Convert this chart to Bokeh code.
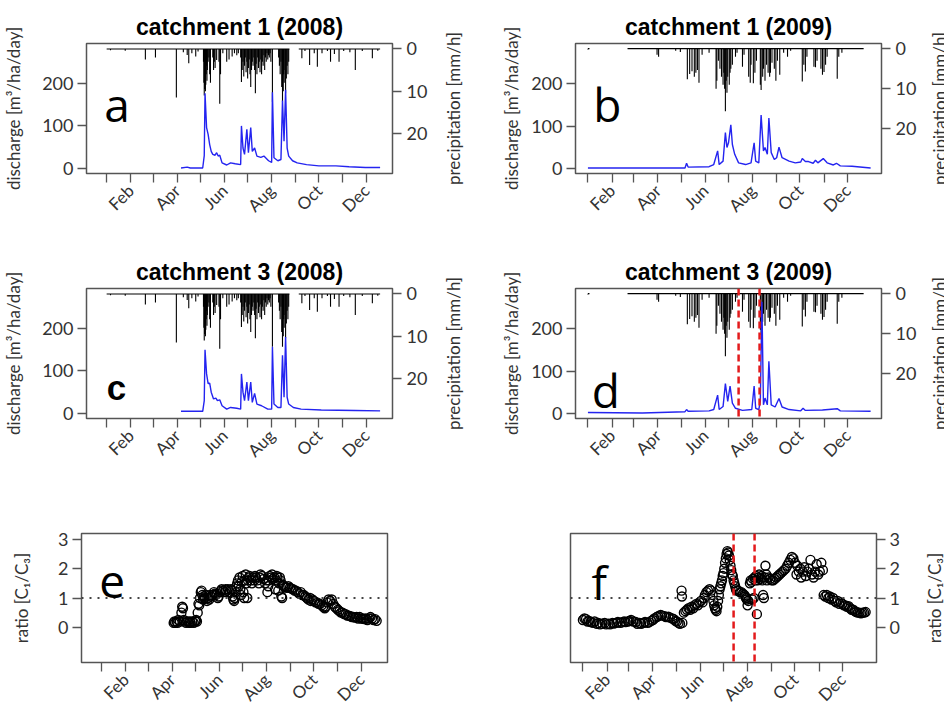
import math
from bokeh.plotting import figure
from bokeh.models import Range1d, LinearAxis, FixedTicker, Span, Label
from bokeh.layouts import column, row
from bokeh.embed import file_html
from bokeh.resources import INLINE

# ---------------- data ----------------
# month starts (day of year, 0 = 1 Jan)
months_2008 = [0, 31, 60, 91, 121, 152, 182, 213, 244, 274, 305, 335]
months_2009 = [0, 31, 59, 90, 120, 151, 181, 212, 243, 273, 304, 334]
month_names = ["Jan", "Feb", "Mar", "Apr", "May", "Jun", "Jul", "Aug", "Sep", "Oct", "Nov", "Dec"]
labelled_months = ["Feb", "Apr", "Jun", "Aug", "Oct", "Dec"]

titles = ["catchment 1 (2008)", "catchment 1 (2009)", "catchment 3 (2008)", "catchment 3 (2009)"]
panel_letters = ["a", "b", "c", "d", "e", "f"]
label_discharge = "discharge [m³/ha/day]"
label_precip = "precipitation [mm/h]"
label_ratio = "ratio [C₁/C₃]"

# discharge [m3/ha/day] (day, value)
q1_2008 = [(96, 1), (104, 3), (108, 1), (124, 1), (126, 30), (127, 177), (129, 96), (131, 80), (133, 56),
           (135, 40), (137, 33), (140, 31), (142, 37), (144, 29), (146, 31), (149, 13), (155, 8), (160, 13),
           (166, 11), (173, 9), (174, 100), (176, 48), (178, 33), (181, 92), (183, 37), (186, 96), (188, 40),
           (191, 48), (194, 29), (199, 26), (203, 29), (209, 18), (213, 14), (214, 179), (216, 25), (221, 18),
           (225, 21), (227, 160), (229, 64), (231, 185), (233, 48), (235, 29), (240, 18), (246, 13), (258, 9),
           (274, 6), (296, 6), (313, 4), (334, 2), (353, 2)]
q3_2008 = [(96, 5), (124, 5), (126, 30), (127, 150), (129, 93), (131, 70), (133, 71), (135, 50), (138, 34),
           (141, 36), (143, 30), (146, 32), (149, 18), (155, 10), (160, 14), (168, 12), (173, 10), (174, 93),
           (176, 50), (178, 30), (181, 74), (183, 30), (186, 74), (188, 26), (191, 47), (194, 22), (200, 18),
           (208, 10), (213, 10), (214, 157), (216, 22), (221, 14), (225, 14), (227, 137), (229, 38), (231, 180),
           (233, 38), (235, 22), (241, 14), (251, 10), (277, 8), (321, 7), (353, 6)]
q1_2009 = [(0, 2), (70, 2), (125, 2), (127, 13), (129, 4), (156, 5), (162, 10), (167, 42), (169, 10), (174, 18),
           (177, 85), (179, 50), (181, 61), (184, 103), (186, 57), (189, 34), (194, 14), (203, 10), (210, 14),
           (214, 61), (216, 18), (220, 14), (223, 126), (226, 42), (228, 50), (231, 34), (233, 119), (236, 38),
           (240, 22), (243, 26), (246, 51), (250, 26), (259, 18), (267, 14), (274, 16), (276, 24), (280, 17),
           (284, 17), (290, 13), (293, 20), (296, 14), (303, 24), (308, 14), (316, 9), (320, 13), (325, 7),
           (340, 6), (364, 2)]
q3_2009 = [(0, 3), (70, 2), (125, 5), (127, 10), (129, 6), (156, 7), (162, 10), (167, 44), (169, 10), (174, 17),
           (177, 71), (180, 29), (183, 65), (186, 25), (190, 13), (199, 8), (211, 10), (214, 65), (216, 13),
           (220, 10), (222, 30), (224, 263), (226, 21), (228, 37), (231, 21), (233, 123), (236, 21), (241, 16),
           (246, 36), (250, 16), (259, 10), (274, 7), (277, 13), (280, 8), (302, 9), (321, 12), (325, 7), (364, 6)]

# precipitation [mm/h] (day, intensity)
p_2008 = [(5, 0.3), (24, 0.4), (50, 2.5), (63, 2.0), (90, 11.5), (99, 0.8), (104, 1.4), (106, 3.4), (110, 1.0),
          (115, 1.8), (118, 0.6), (125, 3), (125.5, 8), (126, 11), (126.5, 9.5), (127, 7), (127.5, 10), (128, 8.5),
          (128.5, 6), (129, 4), (129.5, 7.5), (130, 5), (131, 3), (132, 2), (133, 6), (134, 8), (137, 2), (138, 5),
          (139, 3), (140, 4.5), (142, 2.6), (145, 3), (146, 13), (147, 6), (150, 1), (155, 3), (158, 2.5),
          (162, 1.8), (165, 1), (168, 1.5), (170, 1), (173, 2), (174, 7.8), (175, 5), (176, 3), (177, 6.5),
          (178, 4), (179, 2), (180, 5.5), (181, 3), (182, 7), (183, 4.5), (184, 2.5), (185, 6), (186, 9), (187, 5),
          (188, 3), (189, 4), (190, 2), (191, 5), (192, 10.5), (193, 3.5), (194, 6), (195, 2), (196, 4.5),
          (197, 3), (198, 5.5), (199, 2.5), (200, 6), (201, 3), (202, 4), (203, 1.5), (204, 5), (205, 2), (206, 3),
          (207, 1), (208, 2.5), (209, 1.5), (210, 2), (211, 1), (212, 3), (214, 12.5), (222, 2), (223, 4),
          (224, 6), (225, 3), (226, 9), (227, 12.5), (227.5, 8), (228, 10), (228.5, 6), (229, 5), (230, 8),
          (231, 10.5), (232, 7), (233, 4), (234, 6), (235, 3), (252, 2.2), (256, 0.5), (262, 3.8), (268, 1.0),
          (272, 4.2), (278, 1.0), (285, 0.5), (289, 3.0), (294, 1.2), (300, 3.0), (306, 0.5), (314, 0.8),
          (321, 5.0), (330, 0.5), (343, 2.2), (350, 0.4)]
p_2008_record = [(0, 236), (248, 353)]
p_2009 = [(0, 0.2), (89, 1.5), (91, 2), (113, 0.5), (119, 0.8), (128, 7.6), (131, 6.3), (134, 5.6), (137, 7),
          (139, 6), (141, 5.3), (143, 8.5), (147, 1.5), (156, 1), (165, 10), (166, 8), (168, 3), (170, 5),
          (172, 7), (174, 9), (175, 6), (176, 10), (177, 15.6), (178, 8), (179, 11), (180, 7), (182, 9), (183, 6),
          (184, 5), (186, 4), (190, 2), (192, 1), (199, 4.5), (201, 1.5), (207, 7), (209, 8.5), (210, 4),
          (213, 8.6), (215, 6), (217, 3), (222, 9), (223, 10.3), (225, 7), (226, 5), (228, 8), (230, 4), (232, 6),
          (234, 7), (235, 6), (237, 3.5), (240, 5), (242, 8), (244, 3), (247, 6.5), (252, 1), (257, 2),
          (261, 0.5), (276, 8.2), (278, 4), (280, 5.7), (282, 2), (291, 4.5), (293, 4.6), (295, 3), (300, 5),
          (302, 6.5), (304, 5.8), (306, 4), (308, 2), (321, 7.5), (323, 2), (327, 1)]
p_2009_record = [(0, 2), (51, 355)]

# ratio C1/C3 (day, ratio)
ratio_2008 = [(93, 0.15), (94, 0.2), (95, 0.15), (97, 0.2), (98, 0.15), (99, 0.25), (101, 0.2), (103, 0.5),
              (104, 0.7), (105, 0.65), (106, 0.25), (107, 0.2), (109, 0.15), (111, 0.2), (113, 0.15), (114, 0.2),
              (115, 0.15), (117, 0.2), (119, 0.15), (121, 0.2), (122, 0.25), (123, 0.2), (124, 0.5), (125, 0.8),
              (126, 0.75), (127, 1.0), (128, 1.2), (129, 1.25), (130, 1.1), (131, 0.95), (132, 1.05), (133, 1.0),
              (135, 1.1), (136, 0.9), (137, 1.0), (139, 0.95), (140, 1.1), (141, 1.05), (143, 1.1), (145, 1.2),
              (146, 1.15), (147, 1.1), (149, 1.15), (150, 1.0), (151, 1.05), (153, 1.2), (154, 1.25), (155, 1.3),
              (157, 1.25), (159, 1.2), (160, 1.3), (161, 1.25), (163, 1.3), (165, 1.2), (167, 1.3), (168, 1.25),
              (169, 1.05), (170, 0.95), (171, 0.9), (172, 1.0), (173, 1.2), (174, 1.4), (175, 1.5), (176, 1.6),
              (177, 1.4), (178, 1.7), (179, 1.3), (180, 1.1), (181, 1.55), (182, 1.75), (183, 1.2), (184, 1.0),
              (185, 1.6), (186, 1.8), (187, 1.5), (188, 1.0), (189, 1.6), (190, 1.7), (191, 1.75), (193, 1.6),
              (194, 1.5), (195, 1.7), (197, 1.6), (198, 1.75), (199, 1.7), (201, 1.6), (203, 1.5), (204, 1.7),
              (205, 1.8), (207, 1.75), (209, 1.65), (211, 1.5), (213, 1.6), (214, 1.2), (215, 1.4), (216, 1.6),
              (217, 1.75), (219, 1.7), (220, 1.8), (221, 1.65), (223, 1.7), (224, 1.3), (225, 1.6), (226, 1.75),
              (227, 1.7), (228, 1.25), (229, 1.5), (230, 1.7), (231, 1.6), (232, 1.05), (233, 1.0), (234, 1.45),
              (235, 1.4), (237, 1.38), (239, 1.35), (241, 1.4), (243, 1.35), (245, 1.32), (247, 1.3), (249, 1.25),
              (251, 1.25), (253, 1.2), (255, 1.15), (257, 1.2), (259, 1.1), (261, 1.1), (263, 1.05), (265, 1.0),
              (267, 0.95), (269, 1.0), (270, 0.9), (272, 0.95), (274, 0.9), (276, 0.85), (278, 0.85), (280, 0.8),
              (282, 0.8), (284, 0.75), (286, 0.7), (288, 0.65), (289, 0.7), (291, 0.85), (293, 0.95), (295, 0.9),
              (297, 0.95), (299, 0.8), (301, 0.7), (303, 0.65), (305, 0.6), (307, 0.55), (309, 0.5), (311, 0.5),
              (313, 0.45), (315, 0.45), (317, 0.4), (319, 0.4), (321, 0.38), (323, 0.35), (325, 0.35), (327, 0.33),
              (329, 0.35), (331, 0.3), (333, 0.35), (335, 0.3), (337, 0.3), (339, 0.28), (341, 0.3), (343, 0.25),
              (345, 0.3), (347, 0.35), (349, 0.3), (351, 0.25), (353, 0.28), (355, 0.22)]
ratio_2009 = [(0, 0.25), (2, 0.3), (4, 0.28), (6, 0.2), (8, 0.22), (10, 0.18), (13, 0.15), (15, 0.2), (18, 0.12),
              (20, 0.15), (22, 0.1), (25, 0.12), (28, 0.15), (30, 0.1), (33, 0.12), (35, 0.1), (38, 0.15),
              (40, 0.13), (43, 0.15), (45, 0.18), (48, 0.15), (50, 0.17), (53, 0.2), (55, 0.18), (58, 0.2),
              (60, 0.22), (62, 0.25), (65, 0.2), (68, 0.18), (70, 0.12), (73, 0.15), (75, 0.12), (78, 0.15),
              (80, 0.18), (83, 0.15), (85, 0.17), (88, 0.22), (90, 0.25), (92, 0.3), (95, 0.35), (97, 0.38),
              (100, 0.42), (102, 0.4), (105, 0.38), (107, 0.35), (110, 0.36), (112, 0.33), (115, 0.3), (117, 0.28),
              (119, 0.22), (121, 0.2), (123, 0.15), (125, 0.12), (127, 1.25), (127.5, 1.05), (128, 0.15),
              (130, 0.5), (132, 0.55), (134, 0.6), (136, 0.65), (138, 0.6), (140, 0.7), (142, 0.65), (144, 0.75),
              (146, 0.8), (148, 0.75), (150, 0.85), (152, 0.9), (154, 0.85), (156, 1.0), (157, 1.1), (159, 1.2),
              (161, 1.25), (163, 1.3), (165, 1.25), (167, 1.1), (168, 0.9), (169, 0.75), (170, 0.65), (171, 0.6),
              (172, 0.55), (173, 0.7), (174, 0.9), (175, 1.1), (176, 1.3), (177, 1.4), (178, 1.5), (179, 1.6),
              (180, 1.75), (181, 1.85), (182, 2.0), (183, 2.2), (184, 2.35), (185, 2.5), (186, 2.6), (187, 2.55),
              (188, 2.45), (189, 2.3), (190, 2.1), (191, 1.95), (192, 1.8), (193, 1.75), (194, 1.6), (195, 1.5),
              (196, 1.4), (197, 1.3), (198, 1.25), (200, 1.25), (202, 1.2), (204, 1.2), (206, 1.15), (208, 1.1),
              (209, 1.05), (210, 1.0), (211, 0.95), (212, 0.75), (213, 0.9), (215, 1.5), (216, 1.6), (217, 1.55),
              (218, 0.95), (219, 1.65), (220, 1.0), (221, 1.7), (222, 1.6), (223, 1.75), (224, 0.45), (225, 1.6),
              (226, 1.7), (227, 1.8), (229, 1.65), (230, 1.75), (231, 1.6), (232, 1.1), (233, 1.0), (234, 1.7),
              (235, 2.1), (236, 1.8), (237, 1.6), (239, 1.7), (241, 1.65), (243, 1.6), (245, 1.6), (247, 1.65),
              (249, 1.7), (251, 1.75), (253, 1.8), (255, 1.85), (257, 1.9), (259, 1.95), (261, 2.0), (263, 2.1),
              (265, 2.2), (267, 2.3), (269, 2.4), (271, 2.35), (273, 2.2), (275, 1.8), (276, 2.1), (278, 1.9),
              (280, 2.0), (281, 1.7), (283, 1.9), (285, 2.05), (287, 1.75), (289, 1.9), (291, 2.0), (293, 2.3),
              (295, 1.8), (297, 1.7), (299, 1.9), (301, 2.15), (303, 1.8), (305, 1.9), (307, 2.2), (309, 1.95),
              (310, 1.1), (312, 1.05), (314, 1.1), (316, 1.0), (318, 1.05), (320, 0.95), (322, 1.0), (324, 0.9),
              (326, 0.85), (328, 0.9), (330, 0.8), (332, 0.85), (334, 0.8), (336, 0.75), (338, 0.75), (340, 0.7),
              (342, 0.72), (344, 0.65), (346, 0.6), (348, 0.6), (350, 0.55), (352, 0.52), (354, 0.5), (356, 0.5),
              (358, 0.48), (360, 0.5), (362, 0.5), (364, 0.52)]

# sampling window (days) marked in 2009
window_2009 = [194, 221]

# ---------------- styling helpers ----------------
TXT = "#333333"
AX = "#555555"
LABEL_FONT = "Lato"


def style_axis(ax):
    ax.axis_line_color = None
    ax.major_tick_line_color = AX
    ax.major_tick_line_width = 1.3
    ax.major_tick_out = 9
    ax.major_tick_in = 0
    ax.minor_tick_line_color = AX
    ax.minor_tick_line_width = 1.3
    ax.minor_tick_out = 9
    ax.minor_tick_in = 0
    ax.major_label_text_font = LABEL_FONT
    ax.major_label_text_font_size = "18px"
    ax.major_label_text_color = TXT
    ax.major_label_standoff = 4
    ax.axis_label_text_font = LABEL_FONT
    ax.axis_label_text_font_size = "17px"
    ax.axis_label_text_font_style = "normal"
    ax.axis_label_text_color = TXT


def title_axis(p, text, standoff):
    """Tickless axis added on the left that only carries a (bottom-to-top) axis title."""
    ax = LinearAxis(ticker=FixedTicker(ticks=[]), axis_label=text)
    style_axis(ax)
    ax.major_tick_out = 0
    ax.minor_tick_out = 0
    ax.major_label_standoff = 0
    ax.axis_label_standoff = standoff
    p.add_layout(ax, "left")
    return ax


def make_fig(year, yrange, fh, borders, title=None, y_loc="left"):
    months = months_2008 if year == 2008 else months_2009
    xr = (-26, 369) if year == 2008 else (-16, 378)
    l, r, t, b = borders
    p = figure(frame_width=306, frame_height=fh, x_range=Range1d(*xr), y_range=Range1d(*yrange),
               output_backend="svg", toolbar_location=None, y_axis_location=y_loc,
               min_border_left=l, min_border_right=r, min_border_top=t, min_border_bottom=b)
    p.grid.visible = False
    p.outline_line_color = AX
    p.outline_line_width = 1.5
    p.background_fill_color = "white"
    p.border_fill_color = "white"
    major = [m for m, n in zip(months, month_names) if n in labelled_months]
    minor = [m for m, n in zip(months, month_names) if n not in labelled_months]
    p.xaxis.ticker = FixedTicker(ticks=major, minor_ticks=minor)
    p.xaxis.major_label_overrides = {m: n for m, n in zip(months, month_names) if n in labelled_months}
    p.xaxis.major_label_orientation = math.pi / 4
    for ax in p.xaxis + p.yaxis:
        style_axis(ax)
    p.xaxis.major_label_standoff = 5
    p.xaxis.major_label_text_font_size = "17px"
    if title:
        p.title.text = title
        p.title.align = "center"
        p.title.text_font = "Liberation Sans"
        p.title.text_font_size = "23px"
        p.title.text_font_style = "bold"
        p.title.text_color = "black"
        p.title.standoff = 7
    return p


def strip(fh, top, bottom, text):
    """Thin figure at the far right whose left-side axis carries the right-hand axis title."""
    s = figure(frame_width=6, frame_height=fh, x_range=Range1d(0, 1), y_range=Range1d(0, 1),
               x_axis_location=None, y_axis_location=None, output_backend="svg", toolbar_location=None,
               min_border_left=18, min_border_right=0, min_border_top=top, min_border_bottom=bottom)
    s.grid.visible = False
    s.outline_line_color = None
    s.border_fill_color = "white"
    s.background_fill_color = "white"
    title_axis(s, text, 0)
    return s


def discharge_panel(year, q, precip, record, title, letter, letter_xy, letter_style, borders, qrange, prange,
                    q_standoff, left_precip_label):
    p = make_fig(year, qrange, 130, borders, title=title)
    p.yaxis.ticker = FixedTicker(ticks=[0, 100, 200])
    p.yaxis.axis_label = label_discharge
    p.yaxis.axis_label_standoff = q_standoff
    if left_precip_label:
        # title of the neighbouring panel's right axis, living in this panel's left margin
        title_axis(p, label_precip, 35)
    p.extra_y_ranges = {"precip": Range1d(*prange)}
    rax = LinearAxis(y_range_name="precip", ticker=FixedTicker(ticks=[0, 10, 20]))
    style_axis(rax)
    rax.major_label_standoff = 5
    p.add_layout(rax, "right")
    # precipitation record baseline and hanging bars
    p.segment(x0=[a for a, _ in record], x1=[b for _, b in record], y0=0, y1=0,
              y_range_name="precip", line_color="black", line_width=1.2)
    p.segment(x0=[d for d, _ in precip], x1=[d for d, _ in precip], y0=0, y1=[v for _, v in precip],
              y_range_name="precip", line_color="black", line_width=1.1)
    p.line([d for d, _ in q], [v for _, v in q], line_color="#2424f0", line_width=1.4)
    font, size, style = letter_style
    p.add_layout(Label(x=letter_xy[0], y=letter_xy[1], text=letter, text_font=font, text_font_size=size,
                       text_font_style=style, text_color="black", text_baseline="alphabetic"))
    return p


def ratio_panel(year, data, letter, letter_xy, borders, y_loc):
    p = make_fig(year, (-1.2, 3.2), 129, borders, y_loc=y_loc)
    p.yaxis.ticker = FixedTicker(ticks=[0, 1, 2, 3])
    if y_loc == "left":
        p.yaxis.axis_label = label_ratio
        p.yaxis.axis_label_standoff = 23
    p.add_layout(Span(location=1, dimension="width", line_color="#444444", line_dash="2 6", line_width=2.2))
    p.scatter([d for d, _ in data], [v for _, v in data], size=9, marker="circle", fill_color=None,
              line_color="black", line_width=1.4)
    p.add_layout(Label(x=letter_xy[0], y=letter_xy[1], text=letter, text_font="Open Sans",
                       text_font_size="46px", text_color="black", text_baseline="alphabetic"))
    return p


def add_window(p):
    for loc in window_2009:
        p.add_layout(Span(location=loc, dimension="height", line_color="#e31a1c", line_dash="7 4",
                          line_width=2.5))


# widths: left panel 431 | right panel 489 | strip 24  = 944
LEFT = (81, 44)
RIGHT = (139, 44)
std_letter = ("Open Sans", "46px", "normal")

pa = discharge_panel(2008, q1_2008, p_2008, p_2008_record, titles[0], panel_letters[0], (-3, 152),
                     std_letter, LEFT + (43, 67), (-12, 294), (29.5, -1.3), 15, False)
pb = discharge_panel(2009, q1_2009, p_2009, p_2009_record, titles[1], panel_letters[1], (7, 152),
                     std_letter, RIGHT + (43, 67), (-11, 294), (31.1, -1.3), 6, True)
pc = discharge_panel(2008, q3_2008, p_2008, p_2008_record, titles[2], panel_letters[2], (0, 62),
                     ("Liberation Sans", "35px", "bold"), LEFT + (48, 62), (-12, 294), (29.5, -1.3), 15, False)
pd = discharge_panel(2009, q3_2009, p_2009, p_2009_record, titles[3], panel_letters[3], (5, 57),
                     std_letter, RIGHT + (48, 62), (-11, 294), (31.1, -1.3), 6, True)
add_window(pd)
pe = ratio_panel(2008, ratio_2008, panel_letters[4], (-3, 1.56), LEFT + (53, 51), "left")
pf = ratio_panel(2009, ratio_2009, panel_letters[5], (11, 1.55), RIGHT + (53, 51), "right")
add_window(pf)

row1 = row(pa, pb, strip(130, 43, 67, label_precip))
row2 = row(pc, pd, strip(130, 48, 62, label_precip))
row3 = row(pe, pf, strip(129, 53, 51, label_ratio))

layout = column(row1, row2, row3)
open("out.html", "w").write(file_html(layout, INLINE))
